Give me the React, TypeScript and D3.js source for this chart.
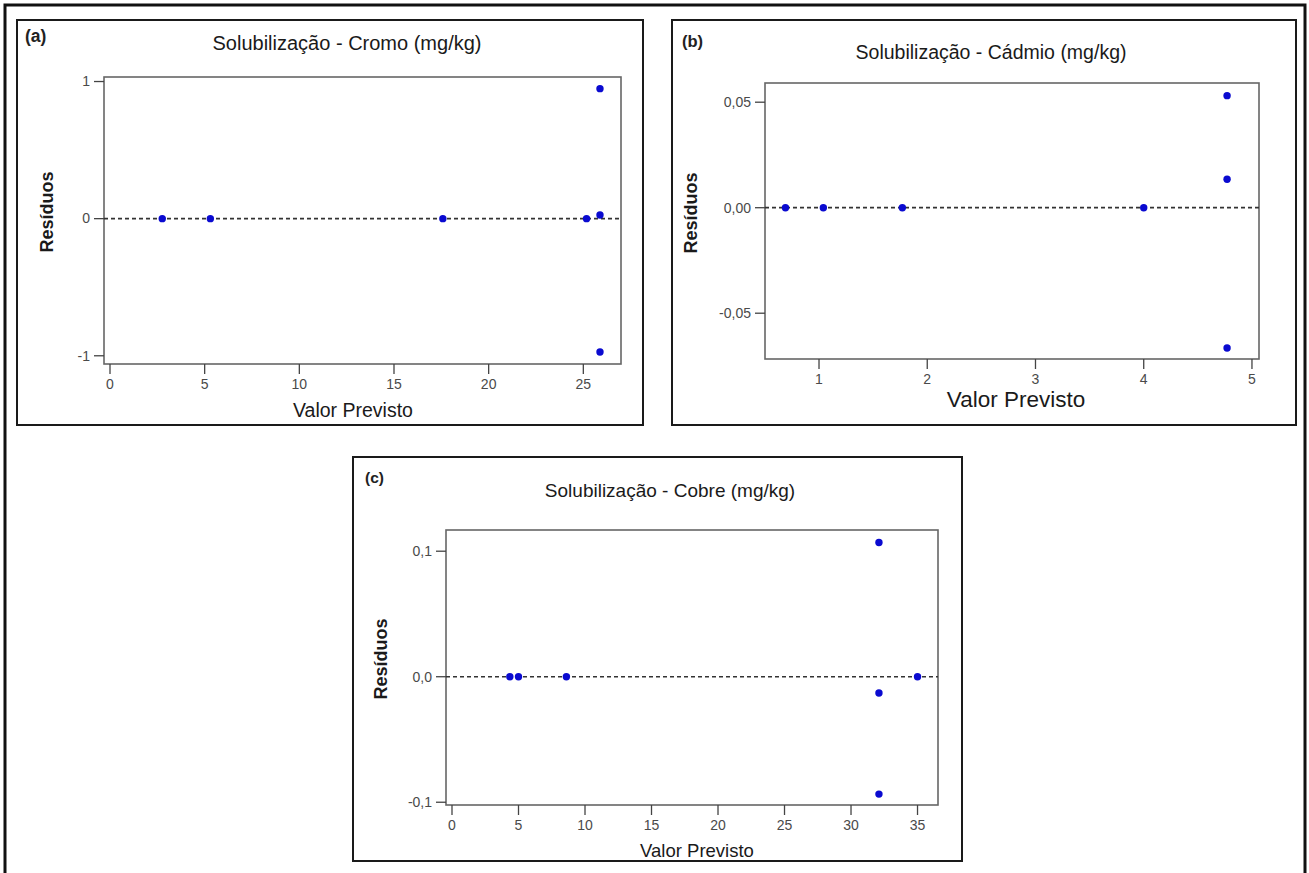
import React from "react";
import * as d3 from "d3";

// ---------- data ----------
const panelLetters = ["(a)", "(b)", "(c)"];
const panelTitles = [
  "Solubilização - Cromo (mg/kg)",
  "Solubilização - Cádmio (mg/kg)",
  "Solubilização - Cobre (mg/kg)",
];
const yAxisLabel = "Resíduos";
const xAxisLabel = "Valor Previsto";

const cromoPredicted = [2.76, 5.3, 17.58, 25.17, 25.88, 25.88, 25.88];
const cromoResidual = [0, 0, 0, 0, 0.027, 0.948, -0.973];
const cromoXTicks = [0, 5, 10, 15, 20, 25];
const cromoYTicks = [-1, 0, 1];

const cadmioPredicted = [0.69, 1.04, 1.77, 4.0, 4.77, 4.77, 4.77];
const cadmioResidual = [0, 0, 0, 0, 0.0531, 0.0135, -0.0665];
const cadmioXTicks = [1, 2, 3, 4, 5];
const cadmioYTicks = [-0.05, 0, 0.05];

const cobrePredicted = [4.35, 5.0, 8.6, 35.0, 32.1, 32.1, 32.1];
const cobreResidual = [0, 0, 0, 0, 0.107, -0.013, -0.0935];
const cobreXTicks = [0, 5, 10, 15, 20, 25, 30, 35];
const cobreYTicks = [-0.1, 0, 0.1];

const ptLocale = d3.formatLocale({
  decimal: ",",
  thousands: ".",
  grouping: [3],
  currency: ["", ""],
  minus: "-",
});

// ---------- layout ----------
const panels = [
  {
    xs: cromoPredicted, ys: cromoResidual, xTicks: cromoXTicks, yTicks: cromoYTicks,
    yFmt: ptLocale.format("d"),
    box: [17, 20, 643, 425], plot: [104, 77, 621, 364],
    xDomain: [-0.317, 26.99], yDomain: [-1.06, 1.033],
    letter: { x: 25, y: 42, size: 17.5 },
    title: { x: 347, y: 50, size: 20 },
    ylab: { x: 53, y: 212, size: 18 },
    xlab: { x: 353, y: 417, size: 19.5 },
  },
  {
    xs: cadmioPredicted, ys: cadmioResidual, xTicks: cadmioXTicks, yTicks: cadmioYTicks,
    yFmt: ptLocale.format(".2f"),
    box: [672, 20, 1296, 425], plot: [765, 83, 1259, 359],
    xDomain: [0.501, 5.065], yDomain: [-0.0717, 0.0591],
    letter: { x: 682, y: 47, size: 16.5 },
    title: { x: 991, y: 59, size: 19.5 },
    ylab: { x: 697, y: 213, size: 18 },
    xlab: { x: 1016, y: 407, size: 22.5 },
  },
  {
    xs: cobrePredicted, ys: cobreResidual, xTicks: cobreXTicks, yTicks: cobreYTicks,
    yFmt: ptLocale.format(".1f"),
    box: [353, 457, 962, 861], plot: [446, 530, 938, 805],
    xDomain: [-0.451, 36.54], yDomain: [-0.1022, 0.1169],
    letter: { x: 365, y: 483, size: 15.5 },
    title: { x: 670, y: 497, size: 19 },
    ylab: { x: 387, y: 659, size: 18 },
    xlab: { x: 697, y: 857, size: 18.5 },
  },
];

const FONT = "'Liberation Sans', Arial, Helvetica, sans-serif";

function Panel({ cfg, idx }: { cfg: any; idx: number }) {
  const [px0, py0, px1, py1] = cfg.plot;
  const [bx0, by0, bx1, by1] = cfg.box;
  const x = d3.scaleLinear().domain(cfg.xDomain).range([px0, px1]);
  const y = d3.scaleLinear().domain(cfg.yDomain).range([py1, py0]);
  const tickLen = 10;
  const dashed = d3.line()([
    [px0, y(0)],
    [px1, y(0)],
  ]);
  return (
    <g>
      <rect x={bx0} y={by0} width={bx1 - bx0} height={by1 - by0} fill="#fff" stroke="#1a1a1a" strokeWidth={2} />
      <text x={cfg.letter.x} y={cfg.letter.y} fontFamily={FONT} fontSize={cfg.letter.size} fontWeight="bold" fill="#222">
        {panelLetters[idx]}
      </text>
      <text x={cfg.title.x} y={cfg.title.y} fontFamily={FONT} fontSize={cfg.title.size} textAnchor="middle" fill="#1a1a1a">
        {panelTitles[idx]}
      </text>
      <text
        transform={`translate(${cfg.ylab.x},${cfg.ylab.y}) rotate(-90)`}
        fontFamily={FONT} fontSize={cfg.ylab.size} fontWeight="bold" textAnchor="middle" fill="#1a1a1a"
      >
        {yAxisLabel}
      </text>
      <text x={cfg.xlab.x} y={cfg.xlab.y} fontFamily={FONT} fontSize={cfg.xlab.size} textAnchor="middle" fill="#1a1a1a">
        {xAxisLabel}
      </text>
      {/* plot frame */}
      <rect x={px0} y={py0} width={px1 - px0} height={py1 - py0} fill="#fff" stroke="#666" strokeWidth={1.6} />
      {/* y ticks */}
      {cfg.yTicks.map((t: number) => (
        <g key={"y" + t}>
          <line x1={px0 - tickLen} x2={px0} y1={y(t)} y2={y(t)} stroke="#444" strokeWidth={1.3} />
          <text x={px0 - tickLen - 4} y={y(t) + 4.8} fontFamily={FONT} fontSize={14} textAnchor="end" fill="#4a4a4a">
            {cfg.yFmt(t)}
          </text>
        </g>
      ))}
      {/* x ticks */}
      {cfg.xTicks.map((t: number) => (
        <g key={"x" + t}>
          <line x1={x(t)} x2={x(t)} y1={py1} y2={py1 + tickLen} stroke="#444" strokeWidth={1.3} />
          <text x={x(t)} y={py1 + 25} fontFamily={FONT} fontSize={14} textAnchor="middle" fill="#4a4a4a">
            {String(t)}
          </text>
        </g>
      ))}
      {/* reference line */}
      <path d={dashed || ""} stroke="#333" strokeWidth={1.7} strokeDasharray="4,3" fill="none" />
      {/* points */}
      {cfg.xs.map((v: number, i: number) => (
        <circle key={i} cx={x(v)} cy={y(cfg.ys[i])} r={3.7} fill="#0a0ad0" />
      ))}
    </g>
  );
}

export default function App() {
  return (
    <svg
      width={1309}
      height={873}
      style={{ position: "absolute", left: 0, top: 0, background: "#fff" }}
    >
      <rect x={0} y={0} width={1309} height={873} fill="#fff" />
      <rect x={5} y={5} width={1300} height={900} fill="none" stroke="#111" strokeWidth={3} />
      {panels.map((p, i) => (
        <Panel key={i} cfg={p} idx={i} />
      ))}
    </svg>
  );
}
